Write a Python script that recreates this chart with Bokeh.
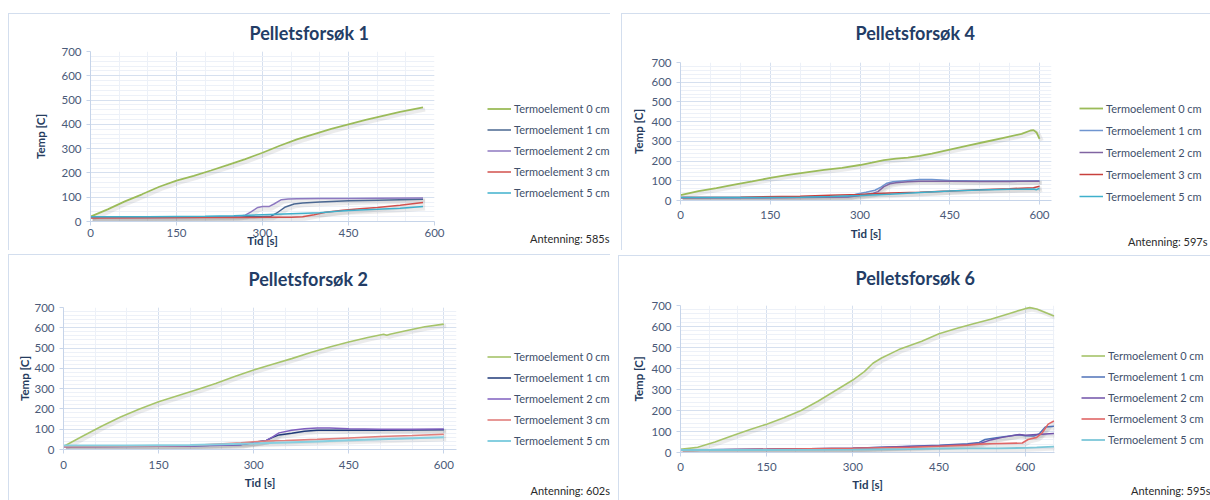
from bokeh.plotting import figure
from bokeh.models import (Range1d, SingleIntervalTicker, Legend, LegendItem, Title, Label,
                          ColumnDataSource)
from bokeh.transform import dodge
from bokeh.layouts import column, row
from bokeh.embed import file_html
from bokeh.resources import INLINE

# ---------------- data ----------------
series_labels = ["Termoelement 0 cm", "Termoelement 1 cm", "Termoelement 2 cm",
                 "Termoelement 3 cm", "Termoelement 5 cm"]

# Pelletsforsøk 1
p1_t0 = [0, 30, 60, 90, 120, 150, 180, 210, 240, 270, 300, 330, 360, 390, 420, 450, 480, 510, 540, 580]
p1_T0 = [20, 50, 83, 112, 143, 168, 188, 210, 233, 257, 283, 312, 338, 360, 381, 400, 418, 435, 451, 470]
p1_t1 = [0, 100, 200, 300, 315, 325, 340, 355, 370, 400, 450, 500, 580]
p1_T1 = [18, 18, 19, 20, 22, 35, 60, 72, 76, 80, 85, 88, 92]
p1_t2 = [0, 100, 200, 255, 270, 280, 292, 300, 312, 320, 333, 345, 360, 400, 450, 500, 580]
p1_T2 = [16, 16, 17, 20, 26, 40, 58, 62, 62, 72, 90, 93, 94, 95, 95, 96, 97]
p1_t3 = [0, 100, 200, 300, 350, 370, 390, 410, 440, 470, 500, 540, 580]
p1_T3 = [14, 15, 16, 17, 18, 20, 28, 38, 46, 52, 58, 67, 78]
p1_t5 = [0, 100, 200, 250, 300, 350, 400, 430, 450, 500, 540, 580]
p1_T5 = [20, 20, 22, 24, 28, 32, 36, 42, 45, 50, 55, 62]

# Pelletsforsøk 4
p4_t0 = [0, 15, 30, 60, 90, 120, 150, 180, 210, 240, 270, 300, 320, 340, 360, 380, 400, 420, 450, 480, 510, 540, 570, 585, 590, 595, 600]
p4_T0 = [27, 38, 47, 63, 80, 97, 115, 130, 143, 155, 166, 180, 192, 205, 212, 218, 226, 238, 258, 278, 298, 318, 338, 355, 357, 345, 312]
p4_t1 = [0, 100, 200, 280, 295, 310, 325, 335, 345, 355, 380, 400, 420, 450, 500, 550, 600]
p4_T1 = [15, 15, 16, 20, 33, 42, 52, 68, 88, 95, 102, 106, 106, 102, 99, 99, 100]
p4_t2 = [0, 100, 200, 280, 300, 320, 330, 340, 350, 360, 380, 400, 450, 500, 550, 600]
p4_T2 = [14, 14, 15, 18, 25, 35, 45, 70, 85, 90, 95, 98, 98, 97, 97, 98]
p4_t3 = [0, 100, 200, 250, 300, 330, 350, 400, 450, 500, 550, 590, 600]
p4_T3 = [15, 17, 22, 27, 30, 35, 38, 42, 48, 55, 60, 65, 72]
p4_t5 = [0, 100, 200, 250, 300, 350, 400, 450, 500, 550, 590, 595, 600]
p4_T5 = [15, 15, 17, 20, 25, 32, 40, 48, 53, 57, 58, 55, 62]

# Pelletsforsøk 2
p2_t0 = [0, 30, 60, 90, 120, 150, 180, 210, 240, 270, 300, 330, 360, 390, 420, 450, 480, 505, 510, 515, 540, 570, 600]
p2_T0 = [15, 65, 115, 160, 200, 235, 265, 295, 325, 360, 392, 420, 448, 478, 505, 530, 552, 568, 563, 568, 585, 605, 618]
p2_t1 = [0, 100, 200, 280, 300, 320, 330, 340, 360, 380, 400, 450, 500, 550, 600]
p2_T1 = [15, 16, 18, 25, 35, 45, 60, 72, 80, 90, 95, 95, 95, 96, 97]
p2_t2 = [0, 100, 200, 280, 300, 320, 330, 340, 360, 380, 400, 420, 450, 500, 550, 600]
p2_T2 = [14, 15, 17, 24, 33, 45, 62, 82, 95, 102, 106, 106, 102, 100, 100, 101]
p2_t3 = [0, 100, 200, 280, 300, 320, 350, 400, 450, 500, 550, 600]
p2_T3 = [14, 16, 20, 33, 38, 42, 44, 50, 57, 64, 69, 75]
p2_t5 = [0, 100, 200, 300, 350, 400, 450, 500, 550, 600]
p2_T5 = [20, 20, 22, 30, 35, 40, 45, 50, 55, 60]

# Pelletsforsøk 6
p6_t0 = [0, 30, 60, 90, 120, 150, 180, 210, 240, 270, 300, 320, 335, 350, 380, 420, 450, 480, 510, 540, 570, 600, 608, 620, 650]
p6_T0 = [15, 25, 50, 80, 108, 135, 165, 200, 245, 295, 345, 385, 425, 450, 490, 530, 565, 590, 613, 635, 660, 685, 690, 683, 650]
p6_t1 = [0, 150, 300, 400, 450, 500, 520, 530, 550, 570, 590, 600, 615, 625, 635, 650]
p6_T1 = [12, 15, 20, 30, 35, 42, 48, 62, 70, 78, 85, 80, 78, 90, 122, 125]
p6_t2 = [0, 150, 300, 400, 450, 500, 520, 540, 560, 590, 600, 620, 650]
p6_T2 = [12, 15, 20, 28, 32, 38, 42, 60, 72, 86, 82, 86, 90]
p6_t3 = [0, 150, 300, 400, 450, 500, 520, 540, 595, 605, 620, 630, 640, 650]
p6_T3 = [10, 15, 20, 25, 30, 35, 40, 42, 45, 62, 72, 95, 135, 150]
p6_t5 = [0, 150, 300, 400, 450, 500, 550, 600, 620, 650]
p6_T5 = [12, 12, 14, 16, 18, 20, 20, 22, 24, 28]

# ---------------- styling ----------------
FONT = "Lato"
TICK_COLOR = "#4a5a78"
TITLE_COLOR = "#233d66"
AXTITLE_COLOR = "#263c5e"
LEGEND_COLOR = "#41506b"
GRID_MAJOR = "#d6e0ef"
GRID_MINOR = "#edf1f8"
AXIS_COLOR = "#c6d4e9"
FRAME_COLOR = "#d3deee"


def frame_css(lines):
    """CSS background drawing the thin chart-area border lines."""
    parts = []
    for (x, y, w, h) in lines:
        parts.append(f"linear-gradient({FRAME_COLOR},{FRAME_COLOR}) {x}px {y}px / {w}px {h}px no-repeat")
    parts.append("#ffffff")
    return {"background": ", ".join(parts)}


def make_chart(cfg, series):
    L, R, T, B = cfg["borders"]
    p = figure(width=cfg["chart_w"], height=250, output_backend="svg",
               toolbar_location=None, x_range=Range1d(0, cfg["xmax"]),
               y_range=Range1d(0, 700), min_border_left=L, min_border_right=R,
               min_border_top=T, min_border_bottom=B,
               title=Title(text=cfg["title"], align="left", offset=cfg["title_offset"],
                           vertical_align="middle", standoff=cfg["title_standoff"],
                           text_font=FONT, text_font_size="18px",
                           text_font_style="bold", text_color=TITLE_COLOR))
    p.outline_line_color = None
    p.border_fill_alpha = 0
    p.background_fill_color = "#ffffff"
    fx, fy = cfg["frame_xy"]
    p.styles = frame_css([(fx, fy, 1, 260), (fx, fy, cfg["chart_w"], 1)])
    p.xaxis.ticker = SingleIntervalTicker(interval=150, num_minor_ticks=3)
    p.yaxis.ticker = SingleIntervalTicker(interval=100, num_minor_ticks=5)
    for ax in (p.xaxis[0], p.yaxis[0]):
        ax.axis_line_color = AXIS_COLOR
        ax.major_tick_line_color = AXIS_COLOR
        ax.major_tick_out = 4
        ax.major_tick_in = 0
        ax.minor_tick_line_color = None
        ax.major_label_text_font = FONT
        ax.major_label_text_font_size = "11.5px"
        ax.major_label_text_color = TICK_COLOR
        ax.axis_label_text_font = FONT
        ax.axis_label_text_font_size = "11.5px"
        ax.axis_label_text_font_style = "bold"
        ax.axis_label_text_color = AXTITLE_COLOR
    p.xaxis.axis_label = "Tid [s]"
    p.yaxis.axis_label = "Temp [C]"
    p.xaxis.major_label_standoff = cfg["xlab_standoff"]
    p.yaxis.major_label_standoff = 5
    p.xaxis.axis_label_standoff = cfg["xtitle_standoff"]
    p.yaxis.axis_label_standoff = cfg["ytitle_standoff"]
    for g in (p.xgrid[0], p.ygrid[0]):
        g.grid_line_color = GRID_MAJOR
        g.minor_grid_line_color = GRID_MINOR
    # soft drop shadows (Excel style), then the series lines
    for (label, t, temp, color, lw) in series:
        src = ColumnDataSource(dict(t=t, temp=temp))
        p.line(x=dodge("t", cfg["xmax"] * 0.006, range=p.x_range),
               y=dodge("temp", -9, range=p.y_range), source=src,
               line_color="#6b6b6b", line_alpha=0.13, line_width=4)
    for (label, t, temp, color, lw) in series:
        p.line(t, temp, line_color=color, line_width=lw)
    return p


def make_legend(cfg, series):
    w = cfg["legend_w"]
    p = figure(width=w, height=250, output_backend="svg", toolbar_location=None,
               x_range=Range1d(0, 1), y_range=Range1d(-3000, -2000),
               x_axis_type=None, y_axis_type=None,
               min_border_left=0, min_border_right=0, min_border_top=0,
               min_border_bottom=0)
    p.outline_line_color = None
    p.grid.visible = False
    p.border_fill_alpha = 0
    p.background_fill_alpha = 0
    fy = cfg["frame_xy"][1]
    p.styles = frame_css([(0, fy, w, 1)])
    items = []
    for (label, t, temp, color, lw) in series:
        # same series (far outside this helper plot's ranges) only to supply legend glyphs
        r = p.line(t, temp, line_color=color, line_width=lw)
        items.append(LegendItem(label=label, renderers=[r]))
    rs = cfg["legend_row"]
    leg = Legend(items=items, location=cfg["legend_loc"], orientation="vertical",
                 glyph_width=24, glyph_height=rs, label_height=rs, spacing=0,
                 padding=0, margin=0, label_standoff=3,
                 background_fill_alpha=0, border_line_alpha=0,
                 label_text_font=FONT, label_text_font_size="11px",
                 label_text_color=LEGEND_COLOR)
    p.add_layout(leg)
    ax_, ay_ = cfg["ant_pos"]
    p.add_layout(Label(x=ax_, y=ay_, x_units="screen", y_units="screen", text=cfg["ant"],
                       text_align="right", text_baseline="middle", text_font=FONT,
                       text_font_size="11px", text_color="#2a2a2a"))
    return p


cfgA = dict(title="Pelletsforsøk 1", ant="Antenning: 585s", chart_w=450, legend_w=160,
            borders=(90, 16, 51, 29), xmax=600, title_offset=159, title_standoff=13,
            xlab_standoff=3, xtitle_standoff=-6, ytitle_standoff=11,
            legend_loc=(37, 47), legend_row=21, ant_pos=(159, 12), frame_xy=(8, 13))
cfgB = dict(title="Pelletsforsøk 4", ant="Antenning: 597s", chart_w=455, legend_w=145,
            borders=(70, 14, 62, 50), xmax=620, title_offset=175, title_standoff=36,
            xlab_standoff=6, xtitle_standoff=5, ytitle_standoff=3,
            legend_loc=(14, 43), legend_row=22, ant_pos=(142, 9), frame_xy=(11, 13))
cfgC = dict(title="Pelletsforsøk 2", ant="Antenning: 602s", chart_w=470, legend_w=140,
            borders=(63, 14, 56, 51), xmax=620, title_offset=185, title_standoff=33,
            xlab_standoff=7, xtitle_standoff=4, ytitle_standoff=0,
            legend_loc=(17, 49), legend_row=21, ant_pos=(139.5, 10), frame_xy=(8, 4))
cfgD = dict(title="Pelletsforsøk 6", ant="Antenning: 595s", chart_w=458, legend_w=142,
            borders=(70, 14, 54, 48), xmax=651, title_offset=175, title_standoff=31,
            xlab_standoff=6, xtitle_standoff=4, ytitle_standoff=3,
            legend_loc=(13, 50), legend_row=21, ant_pos=(142, 10.5), frame_xy=(8, 5))

GREEN = "#9bbb59"
serA = [
    (series_labels[0], p1_t0, p1_T0, GREEN, 1.8),
    (series_labels[1], p1_t1, p1_T1, "#4a6791", 1.5),
    (series_labels[2], p1_t2, p1_T2, "#8e79c0", 1.5),
    (series_labels[3], p1_t3, p1_T3, "#d2504d", 1.5),
    (series_labels[4], p1_t5, p1_T5, "#3fb0cc", 1.5),
]
serB = [
    (series_labels[0], p4_t0, p4_T0, GREEN, 1.8),
    (series_labels[1], p4_t1, p4_T1, "#6f95d0", 1.5),
    (series_labels[2], p4_t2, p4_T2, "#8064a2", 1.5),
    (series_labels[3], p4_t3, p4_T3, "#c8403d", 1.5),
    (series_labels[4], p4_t5, p4_T5, "#3fb0cc", 1.5),
]
serC = [
    (series_labels[0], p2_t0, p2_T0, "#a6c46a", 1.6),
    (series_labels[1], p2_t1, p2_T1, "#1f3a78", 1.5),
    (series_labels[2], p2_t2, p2_T2, "#7f5fbf", 1.5),
    (series_labels[3], p2_t3, p2_T3, "#e27f7c", 1.6),
    (series_labels[4], p2_t5, p2_T5, "#86cfe0", 2.0),
]
serD = [
    (series_labels[0], p6_t0, p6_T0, "#a6c46a", 1.6),
    (series_labels[1], p6_t1, p6_T1, "#4f72b8", 1.5),
    (series_labels[2], p6_t2, p6_T2, "#7052a8", 1.5),
    (series_labels[3], p6_t3, p6_T3, "#e06666", 1.6),
    (series_labels[4], p6_t5, p6_T5, "#7cc7d8", 1.8),
]

top = row(column(make_chart(cfgA, serA)), column(make_legend(cfgA, serA)),
          column(make_chart(cfgB, serB)), column(make_legend(cfgB, serB)))
bottom = row(column(make_chart(cfgC, serC)), column(make_legend(cfgC, serC)),
             column(make_chart(cfgD, serD)), column(make_legend(cfgD, serD)))
layout = column(top, bottom)
open("out.html", "w").write(file_html(layout, INLINE))
